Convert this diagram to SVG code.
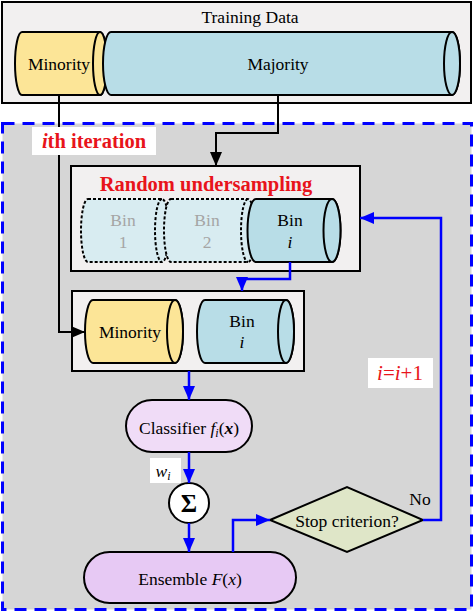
<svg xmlns="http://www.w3.org/2000/svg" width="474" height="613" viewBox="0 0 474 613" font-family="Liberation Serif, Times New Roman, serif">
<defs>
<style>
text{font-size:17.5px;text-anchor:middle}
.box{fill:#f2f0f0;stroke:#000;stroke-width:2}
.yel{fill:#fce597;stroke:#000;stroke-width:2}
.blu{fill:#b8dde7;stroke:#000;stroke-width:2}
.faded{fill:#d8ecf1;stroke:#000;stroke-width:2;stroke-dasharray:3 2}
.fadedtxt{fill:#a5a5a5}
.red{fill:#e8141b;font-weight:bold;font-size:20.5px}
.inc{fill:#e8141b;font-size:21px}
.sig{font-size:25px;font-weight:bold}
.blk{fill:none;stroke:#000;stroke-width:2}
.bl{fill:none;stroke:#0000ff;stroke-width:2.5}
.lbl{fill:#fff}
</style>
<marker id="ak" markerUnits="userSpaceOnUse" markerWidth="14" markerHeight="12" viewBox="0 0 14 12" refX="14" refY="6" orient="auto"><path d="M0,0 L14,6 L0,12 Z" fill="#000"/></marker>
<marker id="ab" markerUnits="userSpaceOnUse" markerWidth="14" markerHeight="12" viewBox="0 0 14 12" refX="14" refY="6" orient="auto"><path d="M0,0 L14,6 L0,12 Z" fill="#0000ff"/></marker>
</defs>

<g id="training-data">
<rect class="box" x="2" y="2" width="469" height="101"/>
<text x="250" y="23">Training Data</text>
</g>

<rect id="iteration-area" x="2.5" y="123.5" width="469" height="486" fill="#d6d6d6" stroke="#0000ff" stroke-width="3" stroke-dasharray="12 8"/>

<g id="minority-train">
<path class="yel" d="M22,32 L100,32 A7,31.5 0 0 1 100,95 L22,95 A7,31.5 0 0 1 22,32 Z"/>
<ellipse class="yel" cx="100" cy="63.5" rx="7" ry="31.5"/>
<text x="59" y="70">Minority</text>
</g>
<g id="majority-train">
<path class="blu" d="M111,32 L452,32 A8,31.5 0 0 1 452,95 L111,95 A8,31.5 0 0 1 111,32 Z"/>
<ellipse class="blu" cx="452" cy="63.5" rx="8" ry="31.5"/>
<text x="278" y="70">Majority</text>
</g>

<g id="random-undersampling">
<rect class="box" x="71" y="166" width="289" height="105"/>
<text class="red" x="206" y="191">Random undersampling</text>
</g>
<g id="bin1">
<path class="faded" d="M88,199 L162,199 A7,31.5 0 0 1 162,262 L88,262 A7,31.5 0 0 1 88,199 Z"/>
<path class="faded" d="M162,199 A7,31.5 0 0 0 162,262" fill="none"/>
<text class="fadedtxt" x="123" y="226">Bin</text>
<text class="fadedtxt" x="123" y="248">1</text>
</g>
<g id="bin2">
<path class="faded" d="M171,199 L248,199 A7,31.5 0 0 1 248,262 L171,262 A7,31.5 0 0 1 171,199 Z"/>
<path class="faded" d="M248,199 A7,31.5 0 0 0 248,262" fill="none"/>
<text class="fadedtxt" x="207" y="226">Bin</text>
<text class="fadedtxt" x="207" y="248">2</text>
</g>
<g id="bin-i">
<path class="blu" d="M256,199 L332,199 A8.5,31.5 0 0 1 332,262 L256,262 A8.5,31.5 0 0 1 256,199 Z"/>
<ellipse class="blu" cx="332" cy="230.5" rx="8.5" ry="31.5"/>
<text x="290" y="226">Bin</text>
<text x="290" y="248" font-style="italic">i</text>
</g>

<g id="subset">
<rect class="box" x="72" y="291" width="232" height="80"/>
</g>
<g id="minority-subset">
<path class="yel" d="M93,300 L175,300 A8,31.5 0 0 1 175,363 L93,363 A8,31.5 0 0 1 93,300 Z"/>
<ellipse class="yel" cx="175" cy="331.5" rx="8" ry="31.5"/>
<text x="130" y="338">Minority</text>
</g>
<g id="bin-i-subset">
<path class="blu" d="M205,300 L286,300 A8,31.5 0 0 1 286,363 L205,363 A8,31.5 0 0 1 205,300 Z"/>
<ellipse class="blu" cx="286" cy="331.5" rx="8" ry="31.5"/>
<text x="242" y="327">Bin</text>
<text x="242" y="348" font-style="italic">i</text>
</g>

<g id="classifier">
<rect x="126" y="400" width="126" height="52" rx="26" fill="#f0dcf7" stroke="#000" stroke-width="2"/>
<text x="189" y="434">Classifier <tspan font-style="italic">f<tspan font-size="12" dy="3">i</tspan><tspan dy="-3" font-style="normal">(</tspan><tspan font-weight="bold">x</tspan><tspan font-style="normal">)</tspan></tspan></text>
</g>
<g id="sum">
<circle cx="189" cy="503" r="20" fill="#fff" stroke="#000" stroke-width="2"/>
<text class="sig" x="189" y="512">Σ</text>
</g>
<g id="ensemble">
<rect x="84" y="552" width="212" height="51" rx="25.5" fill="#e7c9f4" stroke="#000" stroke-width="2"/>
<text x="190" y="585">Ensemble <tspan font-style="italic">F</tspan>(<tspan font-style="italic">x</tspan>)</text>
</g>
<g id="stop-criterion">
<polygon points="270,520 347,487 423,520 347,552" fill="#dfe6c8" stroke="#000" stroke-width="2"/>
<text x="347" y="527">Stop criterion?</text>
</g>

<g id="connectors">
<path class="blk" d="M59,95 V332 H85" marker-end="url(#ak)"/>
<path class="blk" d="M278,95 V133 H216 V166" marker-end="url(#ak)"/>
<path class="bl" d="M290,262 V279 H242 V291" marker-end="url(#ab)"/>
<path class="bl" d="M189,371 V400" marker-end="url(#ab)"/>
<path class="bl" d="M189,452 V483" marker-end="url(#ab)"/>
<path class="bl" d="M189,523 V552" marker-end="url(#ab)"/>
<path class="bl" d="M233,552 V520 H270" marker-end="url(#ab)"/>
<path class="bl" d="M423,520 H441 V218 H360" marker-end="url(#ab)"/>
</g>

<g id="labels">
<rect class="lbl" x="32" y="127" width="124" height="28"/>
<text class="red" x="94" y="148"><tspan font-style="italic">i</tspan>th iteration</text>
<rect class="lbl" x="150" y="458" width="31" height="25"/>
<text x="163" y="477" font-style="italic">w<tspan font-size="12" dy="3">i</tspan></text>
<rect class="lbl" x="368" y="358" width="65" height="30"/>
<text class="inc" x="400" y="380"><tspan font-style="italic">i</tspan>=<tspan font-style="italic">i</tspan>+1</text>
<text x="420" y="505">No</text>
</g>
</svg>
